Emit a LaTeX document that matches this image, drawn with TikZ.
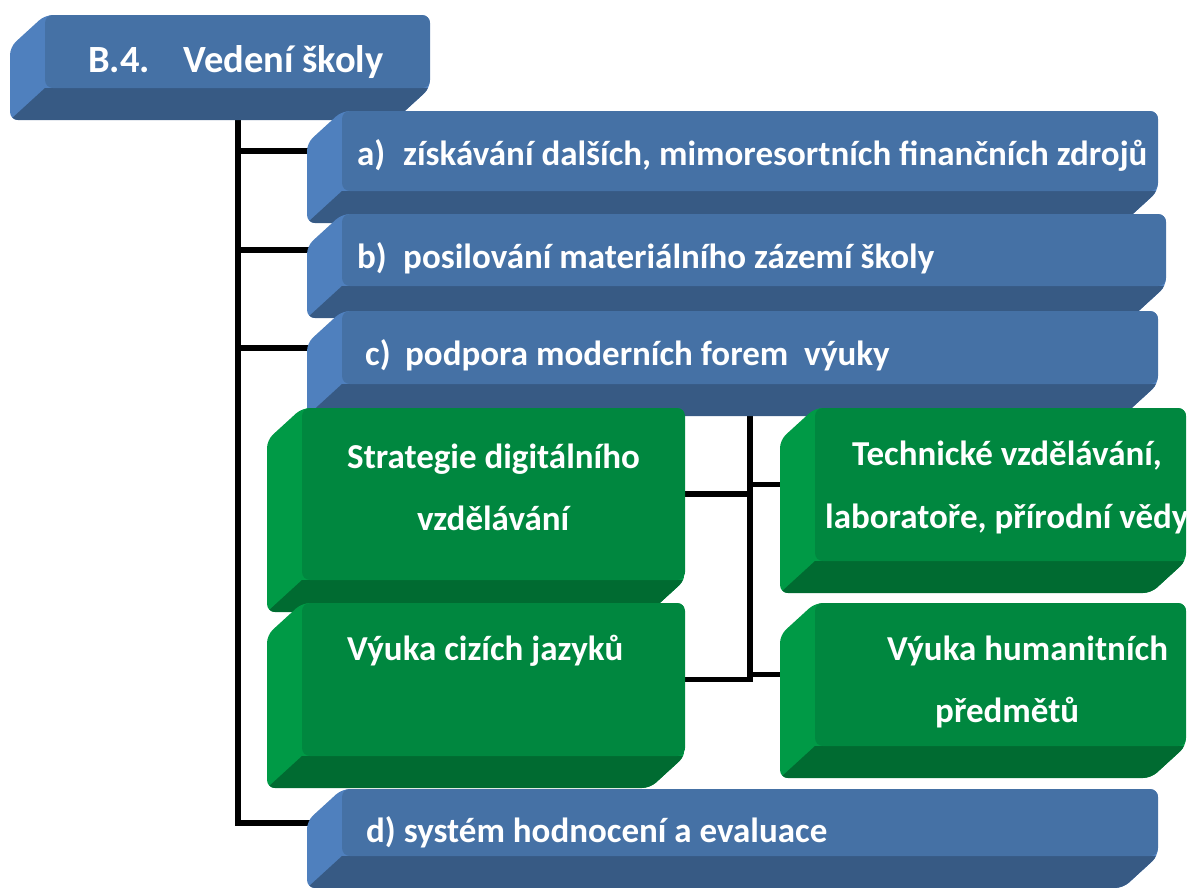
\documentclass[tikz,border=0pt]{standalone}
\usepackage{fontspec}
\setmainfont{Carlito}
\usepackage{xcolor}
\pgfdeclarelayer{background}
\pgfsetlayers{background,main}

\definecolor{blueface}{HTML}{4571A5}
\definecolor{blueside}{HTML}{4F80BE}
\definecolor{bluebottom}{HTML}{375A84}
\definecolor{greenface}{HTML}{00873F}
\definecolor{greenside}{HTML}{009A46}
\definecolor{greenbottom}{HTML}{006B31}

\tikzset{
  slabface/.style={draw=none, rounded corners=8pt, inner sep=0pt, outer sep=0pt, anchor=north west},
  slabtext/.style={text=white, font=\fontsize{35}{42}\selectfont\bfseries, inner sep=0pt, anchor=base west},
  trunkline/.style={line width=6pt, black},
  twigline/.style={line width=5.5pt, black}
}

% #1 name, #2 left, #3 top, #4 right, #5 bottom, #6 colour family
\newcommand{\slab}[6]{%
  \begin{scope}
    \clip[rounded corners=8pt] (#2,-#3-32) -- (#2+35,-#3) -- (#4,-#3) -- (#4,-#5+32) -- (#4-35,-#5) -- (#2,-#5) -- cycle;
    \fill[#6side] (#2,-#3) rectangle (#4,-#5);
    \fill[#6bottom] (#2,-#5) -- (#2+35,-#5+32) -- (#4,-#5+32) -- (#4,-#5) -- cycle;
  \end{scope}
  \node[slabface, fill=#6face, minimum width={(#4-#2-35)*1pt}, minimum height={(#5-#3-32)*1pt}] (#1) at (#2+35,-#3) {};
}

\begin{document}
\begin{tikzpicture}[x=1pt, y=1pt]
\useasboundingbox (0,0) rectangle (1187,-887);
%
\slab{title}{10}{15}{430}{120}{blue}
\slab{a}{307}{111}{1158}{223}{blue}
\slab{b}{307}{214}{1166}{318}{blue}
\slab{c}{307}{311}{1158}{416}{blue}
%
\slab{g1}{267}{408}{685}{612}{green}
\slab{g2}{267}{603}{685}{788}{green}
\slab{g3}{780}{408}{1186}{593}{green}
\slab{g4}{780}{603}{1186}{778}{green}
%
\slab{d}{307}{789}{1158}{888}{blue}
%
\node[slabtext, font=\fontsize{38.5}{46}\selectfont\bfseries] (titletext) at (88, -72) {\makebox[95pt][l]{B.4.}Vedení školy};
\node[slabtext] (atext) at (357, -165) {\makebox[46pt][l]{a)}získávání dalších, mimoresortních finančních zdrojů};
\node[slabtext] (btext) at (357, -268) {\makebox[46pt][l]{b)}posilování materiálního zázemí školy};
\node[slabtext] (ctext) at (365, -365) {\makebox[40pt][l]{c)}podpora moderních forem\ \ výuky};
\node[slabtext] (dtext) at (366, -842) {d) systém hodnocení a evaluace};
%
\node[slabtext] (g1text) at (347, -468) {Strategie digitálního};
\node[slabtext] (g1more) at (417, -530) {vzdělávání};
\node[slabtext] (g2text) at (347, -660) {Výuka cizích jazyků};
\node[slabtext] (g3text) at (852, -465) {Technické vzdělávání,};
\node[slabtext] (g3more) at (825, -528) {laboratoře, přírodní vědy};
\node[slabtext] (g4text) at (887, -660) {Výuka humanitních};
\node[slabtext] (g4more) at (935, -722) {předmětů};
%
\begin{pgfonlayer}{background}
\draw[trunkline] (title.south) |- (d.west);
\foreach \blk in {a,b,c}
  \draw[trunkline] (title.south |- \blk.west) -- (\blk.west);
%
\draw[twigline] (c.south) |- (g2.east);
\draw[twigline] (c.south |- g1.east) -- (g1.east);
\foreach \blk in {g3,g4}
  \draw[twigline] (c.south |- \blk.west) -- (\blk.west);
\end{pgfonlayer}
\end{tikzpicture}
\end{document}
